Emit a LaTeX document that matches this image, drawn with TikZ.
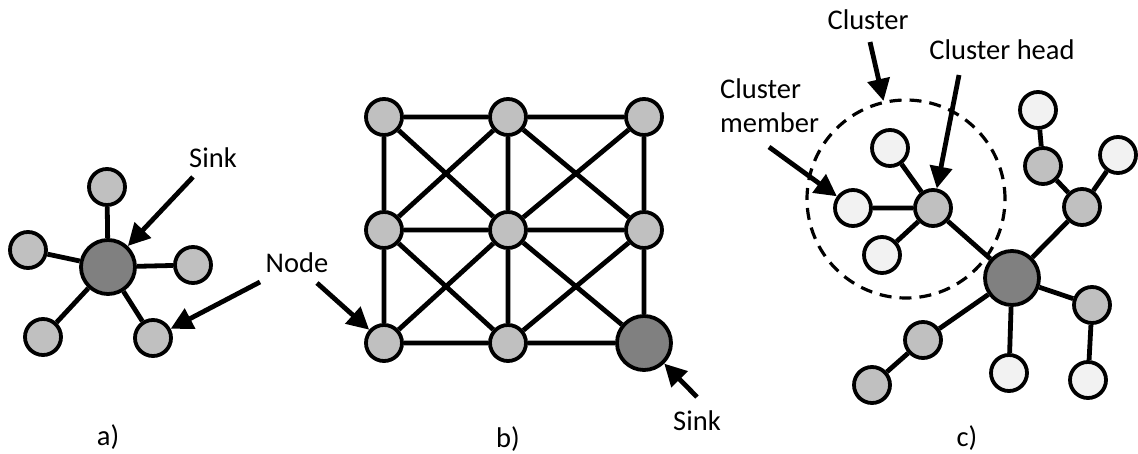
\documentclass[tikz,border=0pt]{standalone}
\usepackage{fontspec}
\setmainfont{Carlito}
\usetikzlibrary{arrows.meta}
\definecolor{nodegray}{HTML}{C0C0C0}
\definecolor{sinkgray}{HTML}{808080}
\definecolor{leafgray}{HTML}{F2F2F2}
\begin{document}
\begin{tikzpicture}[x=1pt,y=-1pt,
  every node/.style={font=\fontsize{28.5}{34}\selectfont},
  sn/.style={circle,draw=black,line width=3.8pt,fill=nodegray,minimum size=36pt,inner sep=0pt},
  leaf/.style={sn,fill=leafgray},
  sinknode/.style={sn,fill=sinkgray,minimum size=54pt},
  link/.style={line width=4.8pt},
  pointer/.style={line width=4.8pt,-{Triangle[length=22pt,width=22pt]}},
  lbl/.style={inner sep=0pt}]
\useasboundingbox (0,0) rectangle (1138,454);

% ---------- a) star ----------
\node[sinknode] (as) at (108,267) {};
\node[sn] (a1) at (107,187) {};
\node[sn] (a2) at (28,250) {};
\node[sn] (a3) at (193,265) {};
\node[sn] (a4) at (43,337) {};
\node[sn] (a5) at (153,338) {};
\foreach \n in {a1,a2,a3,a4,a5} \draw[link] (as) -- (\n);
\node[lbl] (asinklbl) at (213,158) {Sink};
\node[lbl] (nodelbl) at (297,263) {Node};
\coordinate (asinktail) at (193,177);
\coordinate (anodetail) at (260,282);
\draw[pointer] (asinktail) -- (as);
\draw[pointer] (anodetail) -- (a5);
\node[lbl] (alab) at (108,437) {a)};

% ---------- b) mesh ----------
\node[sn] (b11) at (384,117) {};
\node[sn] (b12) at (508,117) {};
\node[sn] (b13) at (644,117) {};
\node[sn] (b21) at (384,230) {};
\node[sn] (b22) at (508,230) {};
\node[sn] (b23) at (644,230) {};
\node[sn] (b31) at (384,343) {};
\node[sn] (b32) at (508,343) {};
\node[sinknode] (bs) at (644,343) {};
\draw[link] (b11) -- (b12) (b12) -- (b13)
            (b21) -- (b22) (b22) -- (b23)
            (b31) -- (b32) (b32) -- (bs)
            (b11) -- (b21) (b21) -- (b31)
            (b12) -- (b22) (b22) -- (b32)
            (b13) -- (b23) (b23) -- (bs)
            (b11) -- (b22) (b12) -- (b21)
            (b12) -- (b23) (b13) -- (b22)
            (b21) -- (b32) (b22) -- (b31)
            (b22) -- (bs)  (b23) -- (b32);
\coordinate (bnodetail) at (317,283);
\draw[pointer] (bnodetail) -- (b31);
\node[lbl] (bsinklbl) at (697,421) {Sink};
\coordinate (bsinktail) at (697,397);
\draw[pointer] (bsinktail) -- (bs);
\node[lbl] (blab) at (508,439) {b)};

% ---------- c) clustered tree ----------
\node[circle,draw=black,dashed,dash pattern=on 12pt off 8pt,line width=3.2pt,
      minimum size=198pt,inner sep=0pt] (clu) at (906,199) {};
\node[sinknode] (cs) at (1012,278) {};
\node[sn] (ch) at (933,208) {};
\node[leaf] (cm1) at (853,208) {};
\node[leaf] (cm2) at (890,148) {};
\node[leaf] (cm3) at (882,255) {};
\node[sn] (cr1) at (1082,207) {};
\node[sn] (cr2) at (1043,166) {};
\node[leaf] (cr3) at (1038,110) {};
\node[leaf] (cr4) at (1118,155) {};
\node[sn] (cd1) at (1092,305) {};
\node[leaf] (cd2) at (1088,380) {};
\node[leaf] (cb) at (1009,373) {};
\node[sn] (cl1) at (923,340) {};
\node[sn] (cl2) at (872,385) {};
\draw[link] (ch) -- (cm1) (ch) -- (cm2) (ch) -- (cm3) (ch) -- (cs)
            (cs) -- (cr1) (cr1) -- (cr2) (cr2) -- (cr3) (cr1) -- (cr4)
            (cs) -- (cd1) (cd1) -- (cd2)
            (cs) -- (cb)
            (cs) -- (cl1) (cl1) -- (cl2);
\node[lbl] (clulbl) at (868,20) {Cluster};
\node[lbl] (headlbl) at (1002,50) {Cluster head};
\node[lbl,anchor=west,align=left] (memlbl) at (720,106) {Cluster\\member};
\coordinate (clutail) at (870,42);
\coordinate (headtail) at (959,75);
\coordinate (memtail) at (769,147);
\draw[pointer] (clutail) -- (clu);
\draw[pointer] (headtail) -- (ch);
\draw[pointer] (memtail) -- (cm1);
\node[lbl] (clab) at (967,438) {c)};
\end{tikzpicture}
\end{document}
